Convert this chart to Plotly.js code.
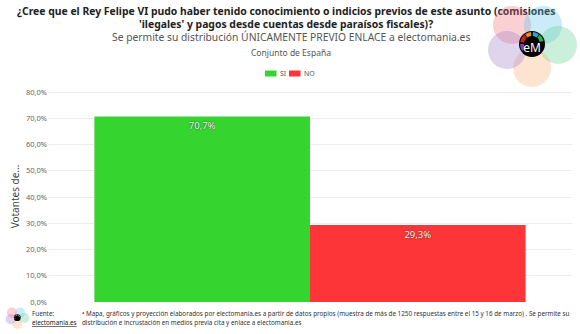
<!DOCTYPE html>
<html><head><meta charset="utf-8">
<script src="https://cdn.plot.ly/plotly-3.0.1.min.js"></script>
<style>
html,body{margin:0;padding:0;background:#fff;}
#wrap{position:relative;width:580px;height:334px;overflow:hidden;}
#chart{position:absolute;left:0;top:0;width:580px;height:334px;}
#logo,#logo2{position:absolute;pointer-events:none;}
</style></head>
<body><div id="wrap"><div id="chart"></div>
<svg id="logo" style="left:482px;top:0px" width="98" height="98" viewBox="0 0 98 98"></svg>
<svg id="logo2" style="left:4px;top:306px" width="26" height="26" viewBox="0 0 98 98"></svg>
</div>
<script>
const category = ['Conjunto de España'];
const seriesNames = ['SI', 'NO'];
const siValues = [70.7];
const noValues = [29.3];
const seriesColors = ['#36d42e', '#fe3538'];
const yTicks = [0, 10, 20, 30, 40, 50, 60, 70, 80];

function pct(v){ return v.toFixed(1).replace('.', ',') + '%'; }

const labelFont = {family:'Noto Sans, sans-serif', size:9.5, color:'#f2f2f2', shadow:'0px 0px 1.5px #222'};

const traces = [
  {type:'bar', name:seriesNames[0], x:category, y:siValues, marker:{color:seriesColors[0]},
   text:siValues.map(pct), textposition:'inside', insidetextanchor:'end', textangle:0,
   textfont:labelFont, hoverinfo:'skip'},
  {type:'bar', name:seriesNames[1], x:category, y:noValues, marker:{color:seriesColors[1]},
   text:noValues.map(pct), textposition:'inside', insidetextanchor:'end', textangle:0,
   textfont:labelFont, hoverinfo:'skip'}
];

const W = 580, H = 334, ML = 48, MR = 8, MT = 91, MB = 32;
const PW = W - ML - MR, PH = H - MT - MB;
const px = x => (x - ML) / PW;
const py = y => (H - MB - y) / PH;

const layout = {
  width:W, height:H,
  margin:{l:ML, r:MR, t:MT, b:MB},
  paper_bgcolor:'#fff', plot_bgcolor:'#fff',
  font:{family:'Noto Sans, sans-serif', color:'#666'},
  barmode:'group', bargap:0.177, bargroupgap:0,
  separators:',.',
  showlegend:false,
  xaxis:{showticklabels:false, showgrid:false, zeroline:false, showline:false, ticks:''},
  yaxis:{range:[0,80.4], tickvals:yTicks, ticktext:yTicks.map(pct), tickfont:{size:7.5, color:'#666'},
         gridcolor:'#ececec', gridwidth:1, zeroline:false, showline:false, ticks:'',
         title:{text:'Votantes de...', font:{size:10, color:'#444'}, standoff:4}},
  annotations:[], shapes:[]
};

const headerLines = [
  {text:"<b>¿Cree que el Rey Felipe VI pudo haber tenido conocimiento o indicios previos de este asunto (comisiones</b>", x:286, y:11, size:10.4, color:'#222'},
  {text:"<b>'ilegales' y pagos desde cuentas desde paraísos fiscales)?</b>", x:286, y:24, size:10.4, color:'#222'},
  {text:"Se permite su distribución ÚNICAMENTE PREVIO ENLACE a electomania.es", x:291, y:37, size:10.3, color:'#555'},
  {text:"Conjunto de España", x:291, y:53, size:8.5, color:'#555'}
];
headerLines.forEach(t => layout.annotations.push({xref:'paper', yref:'paper', x:px(t.x), xanchor:'center', yanchor:'middle',
  y:py(t.y), showarrow:false, text:t.text, font:{size:t.size, color:t.color}}));

// legend (manual, compact like the original)
const legendX = [265, 289];
seriesNames.forEach((n, i) => {
  layout.shapes.push({type:'rect', xref:'paper', yref:'paper', x0:px(legendX[i]), x1:px(legendX[i]+11.5),
    y0:py(76.5), y1:py(70.5), fillcolor:seriesColors[i], line:{width:0}});
  layout.annotations.push({xref:'paper', yref:'paper', x:px(legendX[i]+13), y:py(73.5), xanchor:'left', yanchor:'middle',
    showarrow:false, text:n, font:{size:7, color:'#555'}});
});

const footLines = [
  {text:'Fuente:', x:30, y:313},
  {text:'<u>electomania.es</u>', x:30, y:322, color:'#222'},
  {text:'• Mapa, gráficos y proyección elaborados por electomania.es a partir de datos propios (muestra de más de 1250 respuestas entre el 15 y 16 de marzo) . Se permite su', x:80, y:313},
  {text:'distribución e incrustación en medios previa cita y enlace a electomania.es', x:80, y:322}
];
footLines.forEach(f => layout.annotations.push({xref:'paper', yref:'paper', xanchor:'left', yanchor:'middle',
  x:px(f.x), y:py(f.y), showarrow:false, text:f.text,
  font:{size:6.3, color:f.color || '#333'}}));

Plotly.newPlot('chart', traces, layout, {displayModeBar:false, staticPlot:true});

function drawLogo(svg, withText){
  const ns='http://www.w3.org/2000/svg';
  const circles=[[30,25,'rgba(240,110,120,0.32)'],[61,25,'rgba(90,195,235,0.32)'],[76,45,'rgba(90,205,140,0.32)'],[50,68,'rgba(245,170,110,0.32)'],[25,50,'rgba(160,120,200,0.32)']];
  circles.forEach(c=>{const e=document.createElementNS(ns,'circle');e.setAttribute('cx',c[0]);e.setAttribute('cy',c[1]);e.setAttribute('r',19);e.setAttribute('fill',c[2]);svg.appendChild(e);});
  const b=document.createElementNS(ns,'circle');b.setAttribute('cx',50);b.setAttribute('cy',44);b.setAttribute('r',13);b.setAttribute('fill','#000');svg.appendChild(b);
  const arcs=['#d0201f','#f08a24','#2aa7df','#2fb34a','#7a3fb0'];
  const angs=[[-170,-130],[-125,-95],[-85,-55],[-50,-15],[-215,-180]];
  arcs.forEach((col,i)=>{const a0=angs[i][0]*Math.PI/180,a1=angs[i][1]*Math.PI/180,r=10;
    const p=document.createElementNS(ns,'path');
    p.setAttribute('d',`M${50+r*Math.cos(a0)},${44+r*Math.sin(a0)} A${r},${r} 0 0 1 ${50+r*Math.cos(a1)},${44+r*Math.sin(a1)}`);
    p.setAttribute('stroke',col);p.setAttribute('stroke-width',4);p.setAttribute('fill','none');svg.appendChild(p);});
  if(withText){const t=document.createElementNS(ns,'text');t.setAttribute('x',50);t.setAttribute('y',52);t.setAttribute('text-anchor','middle');
    t.setAttribute('font-family','Noto Sans, sans-serif');t.setAttribute('font-size',12);t.setAttribute('fill','#fff');t.textContent='eM';svg.appendChild(t);}
}
drawLogo(document.getElementById('logo'), true);
drawLogo(document.getElementById('logo2'), false);
</script></body></html>
